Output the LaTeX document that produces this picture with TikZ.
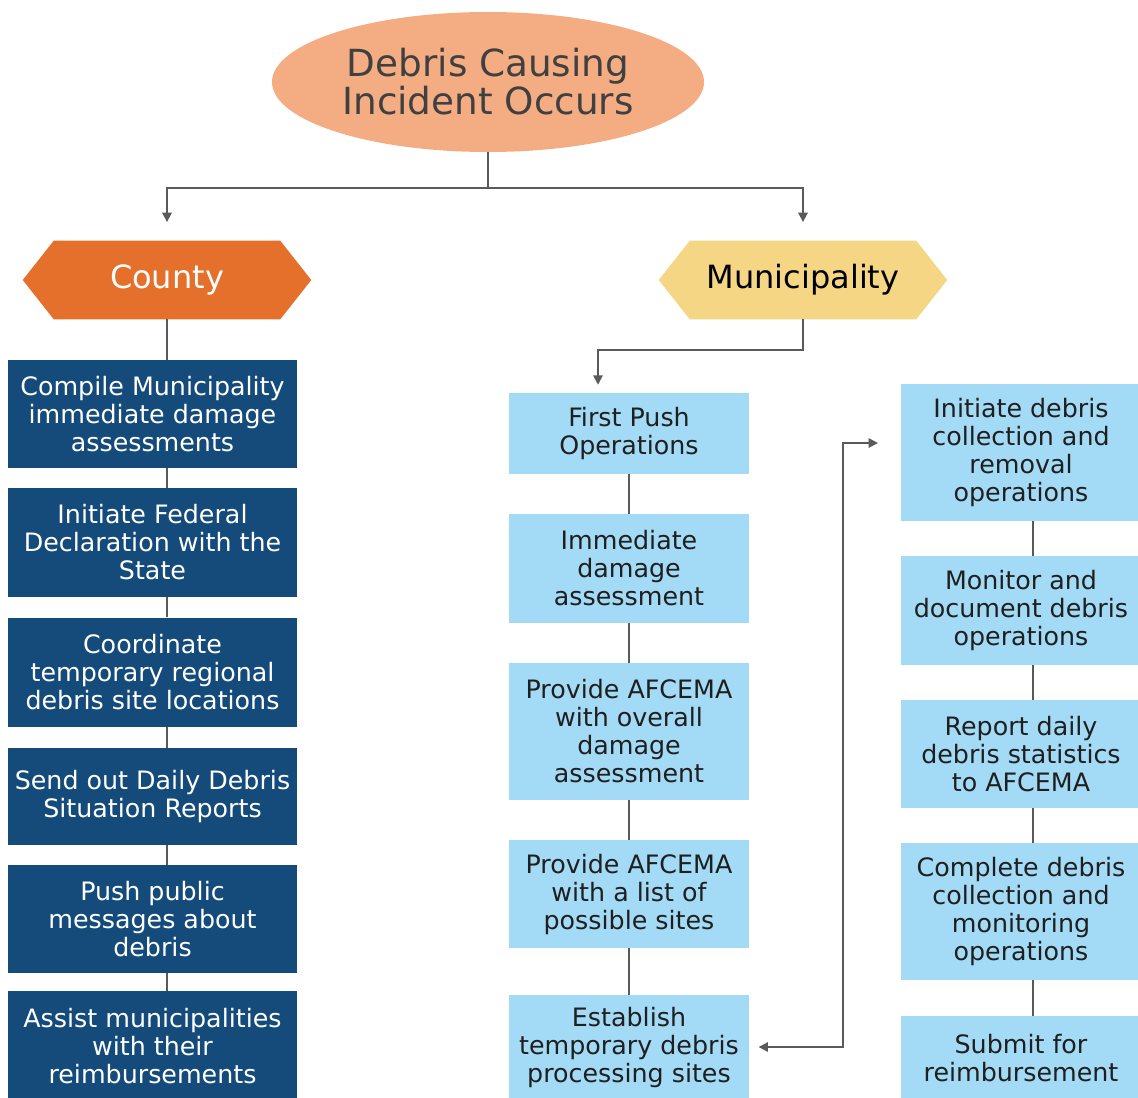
\documentclass[tikz,border=0pt]{standalone}
\usepackage{fontspec}
\setmainfont{DejaVu Sans}
\usetikzlibrary{arrows.meta,calc,backgrounds,shapes.geometric}
\definecolor{ellc}{HTML}{F4AC82}
\definecolor{cntc}{HTML}{E5702B}
\definecolor{munc}{HTML}{F5D684}
\definecolor{dkb}{HTML}{144B7B}
\definecolor{ltb}{HTML}{A3DAF5}
\definecolor{linec}{HTML}{5A5A5A}
\begin{document}
\begin{tikzpicture}[x=0.75pt,y=-0.75pt,
  every node/.style={inner sep=0pt, align=center},
  conn/.style={draw=linec, line width=1.3pt},
  arr/.style={conn, -{Triangle[length=7pt,width=7pt]}},
  boxfont/.style={font=\fontsize{19}{21}\selectfont},
  cbox/.style={boxfont, fill=dkb, text=white, minimum width={289*0.75pt}},
  mbox/.style={boxfont, fill=ltb, text=black!88, minimum width={240*0.75pt}},
  hexnode/.style={minimum width={226*0.75pt}, minimum height={78*0.75pt}, font=\fontsize{24}{26}\selectfont}
]
\useasboundingbox (0,0) rectangle (1138,1097);

% top ellipse
\node[ellipse, fill=ellc, minimum width={432*0.75pt}, minimum height={140*0.75pt},
      text=black!75, font=\fontsize{28}{28.5}\selectfont] (ell) at (488,82) {Debris Causing\\Incident Occurs};

% hexagons (nodes hold the text; shapes filled on background)
\node[hexnode, text=white] (county) at (167,280) {County};
\node[hexnode, text=black] (muni) at (803,280) {Municipality};
\begin{scope}[on background layer]
  \fill[cntc] (county.north west) -- (county.north east) -- ($(county.east)+(31,0)$)
     -- (county.south east) -- (county.south west) -- ($(county.west)+(-31,0)$) -- cycle;
  \fill[munc] (muni.north west) -- (muni.north east) -- ($(muni.east)+(31,0)$)
     -- (muni.south east) -- (muni.south west) -- ($(muni.west)+(-31,0)$) -- cycle;
\end{scope}

% county column
\node[cbox, minimum height={108*0.75pt}] (c1) at (152.5,414) {Compile Municipality\\immediate damage\\assessments};
\node[cbox, minimum height={109*0.75pt}] (c2) at (152.5,542.5) {Initiate Federal\\Declaration with the\\State};
\node[cbox, minimum height={109*0.75pt}] (c3) at (152.5,672) {Coordinate\\temporary regional\\debris site locations};
\node[cbox, minimum height={97*0.75pt}] (c4) at (152.5,796.5) {Send out Daily Debris\\Situation Reports};
\node[cbox, minimum height={108*0.75pt}] (c5) at (152.5,919) {Push public\\messages about\\debris};
\node[cbox, minimum height={110*0.75pt}] (c6) at (152.5,1046) {Assist municipalities\\with their\\reimbursements};

% municipality middle column
\node[mbox, minimum height={81*0.75pt}] (m1) at (629,433.5) {First Push\\Operations};
\node[mbox, minimum height={109*0.75pt}] (m2) at (629,568.5) {Immediate\\damage\\assessment};
\node[mbox, minimum height={137*0.75pt}] (m3) at (629,731.5) {Provide AFCEMA\\with overall\\damage\\assessment};
\node[mbox, minimum height={108*0.75pt}] (m4) at (629,894) {Provide AFCEMA\\with a list of\\possible sites};
\node[mbox, minimum height={104*0.75pt}] (m5) at (629,1047) {Establish\\temporary debris\\processing sites};

% right column
\node[mbox, minimum height={137*0.75pt}] (r1) at (1021,452.5) {Initiate debris\\collection and\\removal\\operations};
\node[mbox, minimum height={109*0.75pt}] (r2) at (1021,610.5) {Monitor and\\document debris\\operations};
\node[mbox, minimum height={108*0.75pt}] (r3) at (1021,754) {Report daily\\debris statistics\\to AFCEMA};
\node[mbox, minimum height={137*0.75pt}] (r4) at (1021,911.5) {Complete debris\\collection and\\monitoring\\operations};
\node[mbox, minimum height={84*0.75pt}] (r5) at (1021,1058) {Submit for\\reimbursement};

% top connectors
\draw[arr, shorten >=14pt] (ell.south) -- ++(0,36) -| (county.north);
\draw[arr, shorten >=14pt] (ell.south) -- ++(0,36) -| (muni.north);

% county spine
\draw[conn] (county.south) -- (c1.north -| county);
\draw[conn] (c1.south -| county) -- (c2.north -| county);
\draw[conn] (c2.south -| county) -- (c3.north -| county);
\draw[conn] (c3.south -| county) -- (c4.north -| county);
\draw[conn] (c4.south -| county) -- (c5.north -| county);
\draw[conn] (c5.south -| county) -- (c6.north -| county);

% municipality to first push
\draw[arr, shorten >=6pt] (muni.south) -- ++(0,31) -| ($(m1.north)+(-31,0)$);

% middle spine
\draw[conn] (m1) -- (m2);
\draw[conn] (m2) -- (m3);
\draw[conn] (m3) -- (m4);
\draw[conn] (m4) -- (m5);

% right spine
\coordinate (rl) at (1033,0);
\draw[conn] (r1.south -| rl) -- (r2.north -| rl);
\draw[conn] (r2.south -| rl) -- (r3.north -| rl);
\draw[conn] (r3.south -| rl) -- (r4.north -| rl);
\draw[conn] (r4.south -| rl) -- (r5.north -| rl);

% loop connector
\coordinate (lp) at (843,443);
\coordinate (lpend) at (878,443);
\draw[conn, {Triangle[length=7pt,width=7pt]}-{Triangle[length=7pt,width=7pt]}, shorten <=7pt]
  (m5.east) -| (lp) -- (lpend);
\end{tikzpicture}
\end{document}
